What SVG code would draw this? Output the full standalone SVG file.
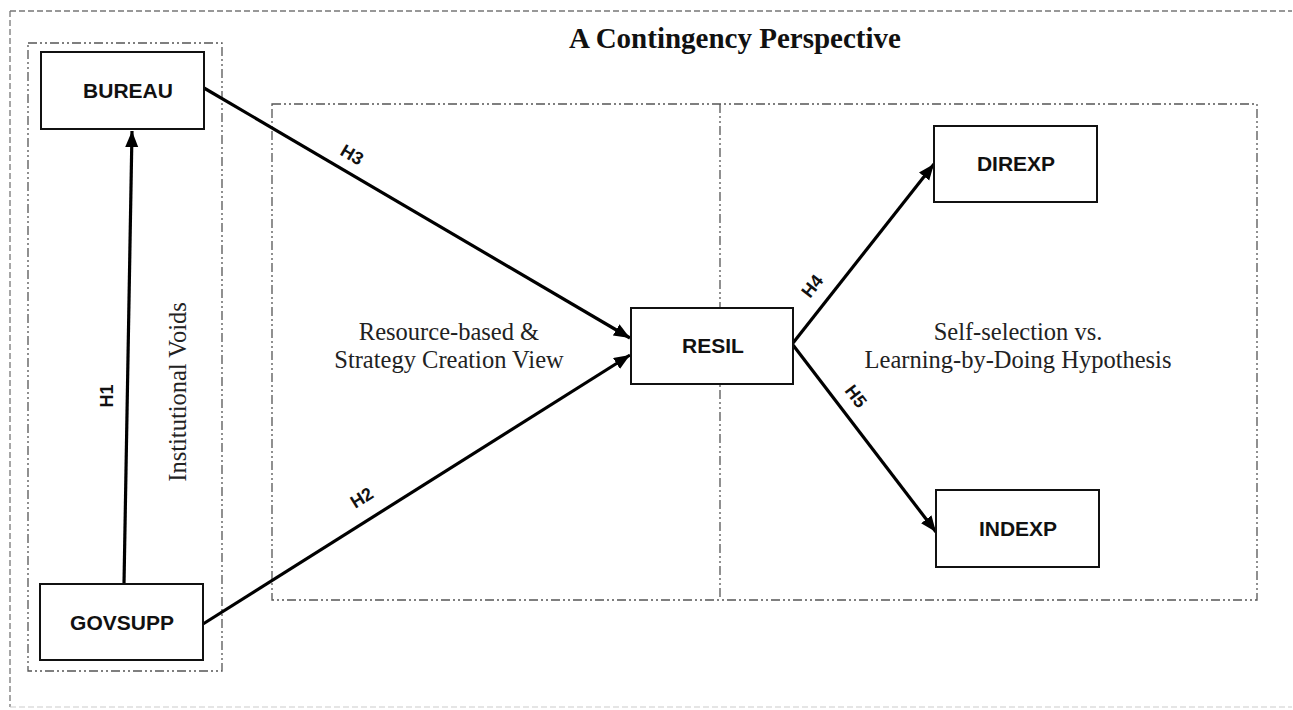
<svg xmlns="http://www.w3.org/2000/svg" width="1293" height="710" viewBox="0 0 1293 710">
<style>
.node{fill:#fff;stroke:#111;stroke-width:2}
.nt{font-family:"Liberation Sans",Arial,sans-serif;font-weight:bold;font-size:21px;fill:#111;text-anchor:middle}
.hl{font-family:"Liberation Sans",Arial,sans-serif;font-weight:bold;font-size:18px;fill:#111;text-anchor:middle}
.st{font-family:"Liberation Serif","Times New Roman",serif;font-size:24.5px;fill:#222;text-anchor:middle}
.title{font-family:"Liberation Serif","Times New Roman",serif;font-weight:bold;font-size:29px;fill:#111;text-anchor:middle}
.dd{fill:none;stroke:#555;stroke-width:1.3;stroke-dasharray:9,3,2,3,2,3}
.conn{stroke:#000;stroke-width:3.2;fill:none}
</style>
<defs>
<marker id="arr" markerUnits="userSpaceOnUse" markerWidth="18" markerHeight="14" refX="16" refY="6.5" orient="auto">
<path d="M0,0 L16,6.5 L0,13 z" fill="#000"/>
</marker>
</defs>
<rect width="1293" height="710" fill="#fff"/>
<g id="frame">
<line x1="10" y1="11" x2="1292" y2="11" stroke="#777" stroke-width="1.3" stroke-dasharray="6,3"/>
<line x1="10" y1="11" x2="10" y2="707" stroke="#777" stroke-width="1.3" stroke-dasharray="6,3"/>
<line x1="10" y1="707" x2="1292" y2="707" stroke="#ccc" stroke-width="1.2" stroke-dasharray="6,3"/>
<rect class="dd" x="28" y="43" width="194" height="628"/>
<rect class="dd" x="272" y="104" width="985" height="496"/>
<line class="dd" x1="720" y1="104" x2="720" y2="600"/>
</g>
<g id="labels">
<text class="title" x="735" y="48">A Contingency Perspective</text>
<text class="st" x="186" y="392" transform="rotate(-90 186 392)">Institutional Voids</text>
<text class="st" x="449" y="340">Resource-based &amp;</text>
<text class="st" x="449" y="368">Strategy Creation View</text>
<text class="st" x="1018" y="340">Self-selection vs.</text>
<text class="st" x="1018" y="368">Learning-by-Doing Hypothesis</text>
</g>
<g id="connectors">
<line class="conn" x1="124" y1="584" x2="132" y2="131" marker-end="url(#arr)"/>
<line class="conn" x1="203" y1="624" x2="630" y2="355" marker-end="url(#arr)"/>
<line class="conn" x1="204" y1="88" x2="630" y2="338" marker-end="url(#arr)"/>
<line class="conn" x1="793" y1="343" x2="934" y2="164" marker-end="url(#arr)"/>
<line class="conn" x1="793" y1="345" x2="936" y2="532" marker-end="url(#arr)"/>
<text class="hl" x="113" y="396" transform="rotate(-90 113 396)">H1</text>
<text class="hl" x="365" y="503" transform="rotate(-32 365 503)">H2</text>
<text class="hl" x="349" y="160" transform="rotate(30.3 349 160)">H3</text>
<text class="hl" x="817" y="290" transform="rotate(-51.8 817 290)">H4</text>
<text class="hl" x="851" y="400" transform="rotate(52.7 851 400)">H5</text>
</g>
<g id="BUREAU">
<rect class="node" x="41" y="52" width="163" height="77"/>
<text class="nt" x="128" y="98">BUREAU</text>
</g>
<g id="GOVSUPP">
<rect class="node" x="40" y="584" width="163" height="76"/>
<text class="nt" x="122" y="630">GOVSUPP</text>
</g>
<g id="RESIL">
<rect class="node" x="631" y="308" width="162" height="76"/>
<text class="nt" x="713" y="353">RESIL</text>
</g>
<g id="DIREXP">
<rect class="node" x="934" y="126" width="163" height="76"/>
<text class="nt" x="1016" y="171">DIREXP</text>
</g>
<g id="INDEXP">
<rect class="node" x="936" y="490" width="163" height="77"/>
<text class="nt" x="1018" y="536">INDEXP</text>
</g>
</svg>
